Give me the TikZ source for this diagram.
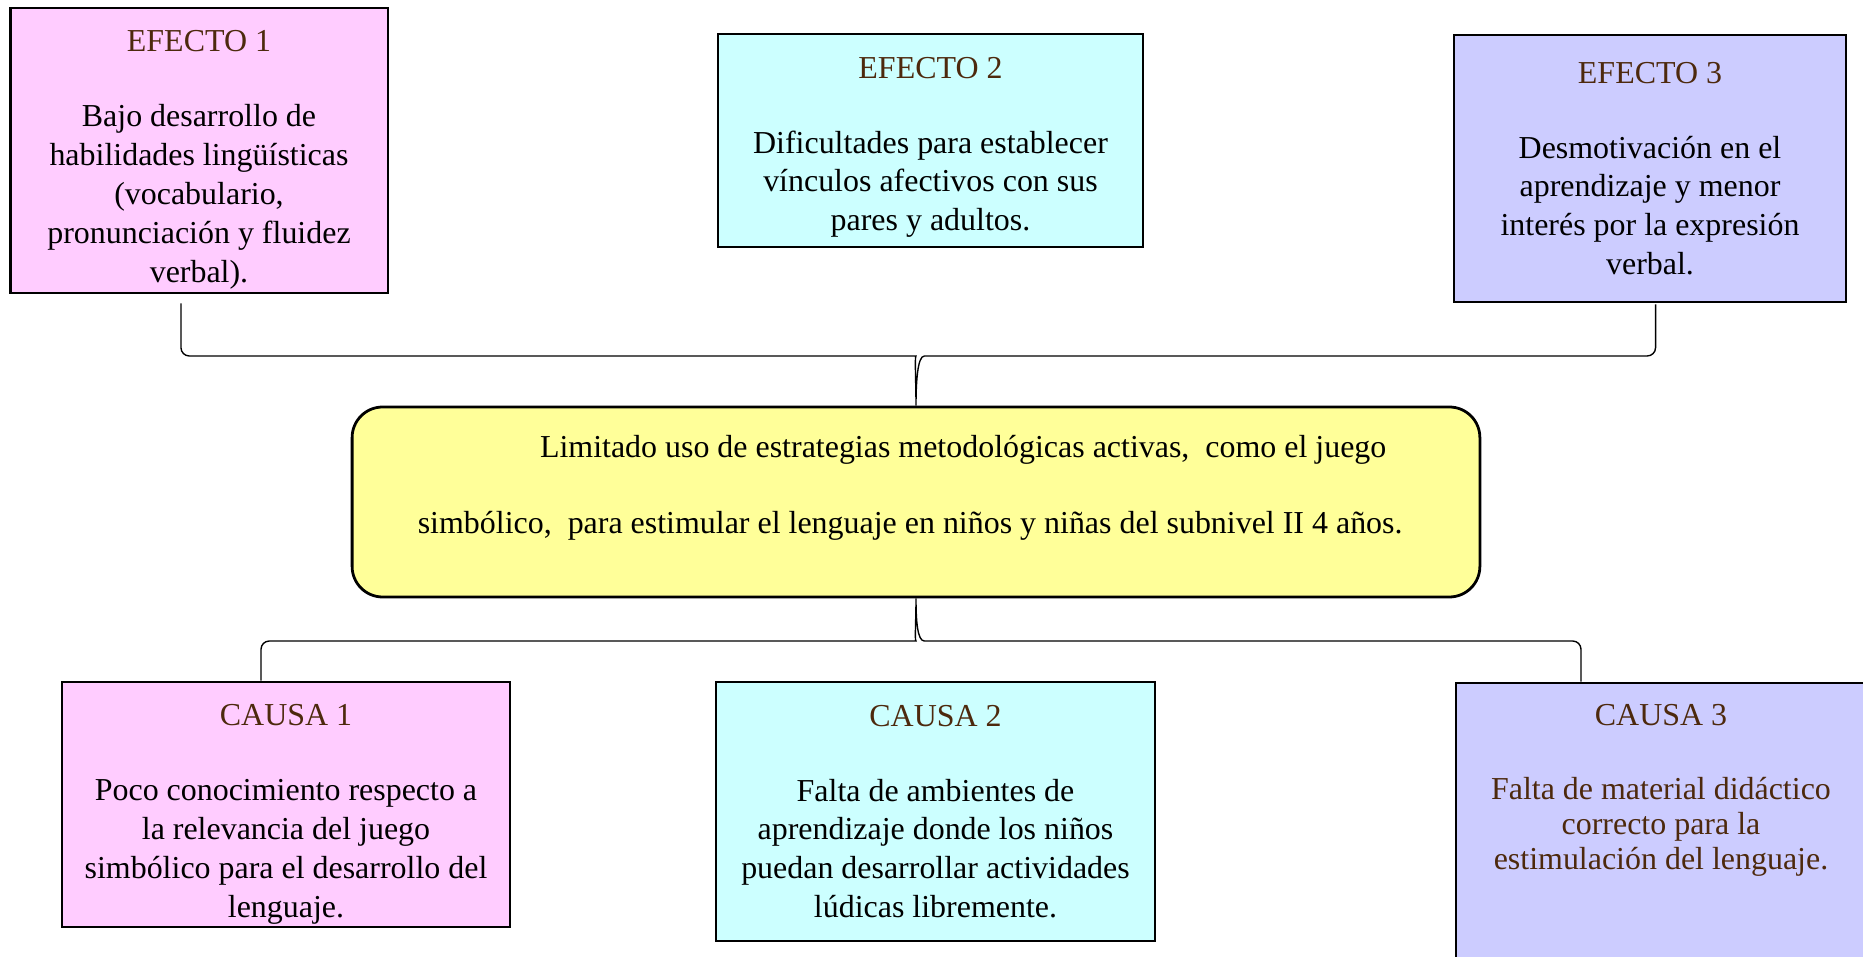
\documentclass[tikz,border=0pt]{standalone}
\usepackage{fontspec}
\setmainfont{Liberation Serif}
\usepackage{tikz}
\usetikzlibrary{positioning}
\definecolor{rosa}{HTML}{FFCCFF}
\definecolor{celeste}{HTML}{CCFFFF}
\definecolor{lila}{HTML}{CCCCFF}
\definecolor{amarillo}{HTML}{FFFF99}
\definecolor{cafe}{RGB}{77,41,13}
% titulo de caja, con altura opcional para bajar el texto
\newcommand{\titulo}[2][0pt]{\rule{0pt}{#1}{\color{cafe}#2}\\[13pt]}

\begin{document}
\begin{tikzpicture}[x=0.36pt, y=-0.36pt]
  \tikzset{every node/.style={font=\fontsize{11.5}{14}\selectfont},
    caja/.style={draw, line width=1pt, align=center, inner sep=0pt},
    llave/.style={draw, line width=0.5pt}}

  \useasboundingbox (0,0) rectangle (1863,957);
  \clip (0,0) rectangle (1863,957);

  % efectos
  \node[caja, fill=rosa, minimum width=136pt, minimum height=102.6pt] (e1) at (199,150.5)
    {\titulo[14.5pt]{EFECTO 1}Bajo desarrollo de\\habilidades lingüísticas\\(vocabulario,\\pronunciación y fluidez\\verbal).};
  \node[caja, fill=celeste, minimum width=153pt, minimum height=76.7pt] (e2) at (930.5,140.5)
    {\titulo[12.5pt]{EFECTO 2}Dificultades para establecer\\vínculos afectivos con sus\\pares y adultos.};
  \node[caja, fill=lila, minimum width=141.1pt, minimum height=96.1pt] (e3) at (1650,168.5)
    {\titulo{EFECTO 3}Desmotivación en el\\aprendizaje y menor\\interés por la expresión\\verbal.};

  % problema central
  \node[draw, line width=1pt, fill=amarillo, rounded corners=11pt,
    minimum width=406pt, minimum height=68.4pt] (prob) at (916,502) {};
  \node[anchor=west, align=left, font=\fontsize{11.5}{27.4}\selectfont] (probtxt) at (408,488)
    {\hspace*{44pt}Limitado uso de estrategias metodológicas activas, \ como el juego\\
     simbólico, \ para estimular el lenguaje en niños y niñas del subnivel II 4 años.};

  % causas
  \node[caja, fill=rosa, minimum width=161.3pt, minimum height=88.2pt] (c1) at (286,804.5)
    {\titulo[14.5pt]{CAUSA 1}Poco conocimiento respecto a\\la relevancia del juego\\simbólico para el desarrollo del\\lenguaje.};
  \node[caja, fill=celeste, minimum width=158pt, minimum height=93.2pt] (c2) at (935.5,811.5)
    {\titulo{CAUSA 2}Falta de ambientes de\\aprendizaje donde los niños\\puedan desarrollar actividades\\lúdicas libremente.};
  \node[caja, fill=lila, minimum width=147.6pt, minimum height=110.5pt] (c3) at (1661,836.5) {};
  \node[align=center, text=cafe, font=\fontsize{11.5}{12.6}\selectfont] (c3txt) at (1661,790)
    {CAUSA 3\\[14pt]Falta de material didáctico\\correcto para la\\estimulación del lenguaje.};

  % llaves
  \coordinate (h1) at (0,356);
  \coordinate (h2) at (0,641);
  \coordinate (sup) at (prob.north |- h1);
  \coordinate (inf) at (prob.south |- h2);
  \coordinate (ll1) at ([xshift=-6.5pt,yshift=-3.2pt]e1.south);
  \coordinate (lr1) at ([xshift=2pt,yshift=-0.4pt]e3.south);
  \coordinate (bl) at ([xshift=-9pt]c1.north);
  \coordinate (br) at ([xshift=-28.8pt]c3.north);

  \draw[llave] (ll1) [rounded corners=3pt] -- (ll1 |- h1) -- ([xshift=-3pt]sup)
    [sharp corners] .. controls ([xshift=-0.5pt]sup) and ([yshift=8pt]prob.north) .. (prob.north)
    .. controls ([yshift=8pt]prob.north) and ([xshift=0.5pt]sup) .. ([xshift=3pt]sup)
    [rounded corners=3pt] -- (lr1 |- h1) -- (lr1);
  \draw[llave] (bl) [rounded corners=3pt] -- (bl |- h2) -- ([xshift=-3pt]inf)
    [sharp corners] .. controls ([xshift=-0.5pt]inf) and ([yshift=-8pt]prob.south) .. (prob.south)
    .. controls ([yshift=-8pt]prob.south) and ([xshift=0.5pt]inf) .. ([xshift=3pt]inf)
    [rounded corners=3pt] -- (br |- h2) -- (br);
\end{tikzpicture}
\end{document}
